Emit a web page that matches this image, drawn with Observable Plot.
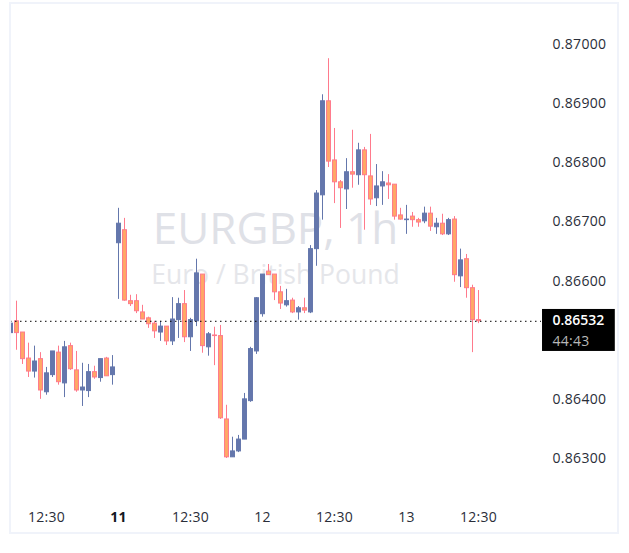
<!DOCTYPE html>
<html>
<head>
<meta charset="utf-8">
<script src="https://cdn.jsdelivr.net/npm/d3@7"></script>
<script src="https://cdn.jsdelivr.net/npm/@observablehq/plot@0.6"></script>
<style>
html,body{margin:0;padding:0;background:#fff;}
#wrap{position:relative;width:629px;height:553px;overflow:hidden;}
#wrap svg{display:block;}
#wrap svg g[aria-label^="y-axis"] text,#wrap svg g[aria-label^="x-axis"] text,#wrap svg g[aria-label="text"]:last-of-type text{letter-spacing:.3px;}
#border{position:absolute;left:9px;top:2px;width:606px;height:528px;border:2px solid #f0f3fa;pointer-events:none;}
</style>
</head>
<body>
<div id="wrap"><div id="border"></div></div>
<script>
const opens = [0.86512,0.86532,0.86513,0.86469,0.86447,0.86468,0.86412,0.86441,0.86479,0.86427,0.86490,0.86449,0.86415,0.86414,0.86446,0.86436,0.86469,0.86441,
0.86664,0.86686,0.86566,0.86566,0.86547,0.86537,0.86528,0.86513,0.86523,0.86498,0.86534,0.86561,0.86505,0.86532,0.86611,0.86488,0.86508,0.86507,0.86366,0.86302,0.86312,0.86332,0.86397,0.86481,0.86544,0.86616,0.86611,0.86581,0.86559,0.86567,0.86547,0.86554,0.86547,0.86654,0.86745,0.86904,0.86804,0.86767,0.86755,0.86784,0.86779,0.86821,0.86777,0.86740,0.86760,0.86765,0.86763,0.86711,0.86703,0.86709,0.86703,0.86701,0.86714,0.86691,0.86697,0.86679,0.86704,0.86608,0.86637,0.86588,0.86534];
const highs = [0.86540,0.86566,0.86513,0.86495,0.86490,0.86479,0.86454,0.86481,0.86490,0.86498,0.86495,0.86481,0.86461,0.86459,0.86456,0.86468,0.86471,0.86474,
0.86723,0.86706,0.86576,0.86577,0.86559,0.86539,0.86532,0.86532,0.86523,0.86572,0.86571,0.86584,0.86537,0.86637,0.86611,0.86513,0.86522,0.86525,0.86390,0.86336,0.86339,0.86410,0.86488,0.86572,0.86611,0.86628,0.86611,0.86591,0.86586,0.86571,0.86557,0.86571,0.86660,0.86753,0.86915,0.86976,0.86858,0.86770,0.86807,0.86855,0.86833,0.86826,0.86848,0.86797,0.86785,0.86780,0.86763,0.86723,0.86728,0.86716,0.86706,0.86725,0.86725,0.86706,0.86713,0.86706,0.86709,0.86654,0.86645,0.86593,0.86584];
const lows = [0.86510,0.86483,0.86459,0.86437,0.86436,0.86400,0.86407,0.86437,0.86424,0.86403,0.86449,0.86412,0.86388,0.86403,0.86434,0.86429,0.86439,0.86424,
0.86569,0.86566,0.86557,0.86545,0.86535,0.86520,0.86503,0.86498,0.86491,0.86491,0.86503,0.86496,0.86481,0.86523,0.86478,0.86473,0.86457,0.86366,0.86300,0.86302,0.86310,0.86332,0.86395,0.86476,0.86539,0.86610,0.86567,0.86552,0.86556,0.86545,0.86534,0.86545,0.86545,0.86625,0.86703,0.86792,0.86731,0.86689,0.86721,0.86757,0.86762,0.86686,0.86728,0.86726,0.86728,0.86738,0.86703,0.86703,0.86679,0.86691,0.86691,0.86697,0.86684,0.86679,0.86677,0.86677,0.86598,0.86589,0.86571,0.86479,0.86528];
const closes = [0.86528,0.86512,0.86468,0.86447,0.86464,0.86415,0.86444,0.86481,0.86429,0.86488,0.86451,0.86415,0.86420,0.86446,0.86437,0.86468,0.86439,0.86454,
0.86697,0.86567,0.86561,0.86549,0.86535,0.86527,0.86515,0.86523,0.86498,0.86535,0.86561,0.86505,0.86534,0.86613,0.86490,0.86510,0.86507,0.86368,0.86302,0.86312,0.86332,0.86400,0.86485,0.86571,0.86611,0.86610,0.86581,0.86562,0.86566,0.86547,0.86554,0.86550,0.86654,0.86748,0.86904,0.86802,0.86767,0.86757,0.86784,0.86780,0.86821,0.86779,0.86738,0.86760,0.86767,0.86762,0.86709,0.86704,0.86704,0.86703,0.86699,0.86714,0.86692,0.86697,0.86679,0.86703,0.86610,0.86635,0.86588,0.86534,0.86532];
const priceTicks = [0.87,0.869,0.868,0.867,0.866,0.864,0.863];
const timeTicks = [6,30,42,54,66,78];
const timeLabels = ["12:30","12:30","12","12:30","13","12:30"];
const boldTicks = [18];
const boldLabels = ["11"];
const lastPrice = 0.86532;
const countdown = "44:43";
const symbol = "EURGBP, 1h";
const description = "Euro / British Pound";

const upBody = "#6477ac", downFill = "#ffa866", downEdge = "#ff7a8c";
const candles = opens.map((o,i)=>({i,open:o,high:highs[i],low:lows[i],close:closes[i],up:closes[i]>o}));
const font = "'Open Sans', 'Noto Sans', sans-serif";

const chart = Plot.plot({
  width:629,height:553,
  marginLeft:10,marginRight:77,marginTop:4,marginBottom:46,
  style:{fontFamily:font,background:"#fff",color:"#2a2e39",overflow:"visible"},
  x:{type:"linear",domain:[0,78],range:[10,478],axis:null},
  y:{type:"linear",domain:[0.863,0.87],range:[458,44],axis:null},
  marks:[
    Plot.text([symbol],{text:d=>d,frameAnchor:"top",dx:-6,dy:208,fontSize:44,fill:"#dfe1e7",lineAnchor:"top"}),
    Plot.text([description],{text:d=>d,frameAnchor:"top",dx:-6,dy:261,fontSize:26.5,fill:"#e5e6ea",lineAnchor:"top"}),
    Plot.ruleX(candles,{x:"i",y1:"low",y2:"high",stroke:d=>d.up?upBody:downEdge,strokeWidth:1,clip:true}),
    Plot.rect(candles,{x1:d=>d.i-0.33,x2:d=>d.i+0.33,y1:"open",y2:"close",dx:0.5,fill:d=>d.up?upBody:downFill,stroke:d=>d.up?upBody:downEdge,strokeWidth:1,clip:true}),
    Plot.ruleY([lastPrice],{x1:0,x2:88.5,stroke:"#000",strokeWidth:1,strokeDasharray:"1.5 3.5"}),
    Plot.axisY({ticks:priceTicks,anchor:"right",label:null,tickSize:0,tickPadding:0,textAnchor:"start",tickFormat:d=>d.toFixed(5),fontSize:14,fill:"#2a2e39"}),
    Plot.axisX({ticks:timeTicks,anchor:"bottom",label:null,tickSize:0,tickPadding:5,tickFormat:d=>timeLabels[timeTicks.indexOf(d)],fontSize:14,fill:"#2a2e39"}),
    Plot.axisX({ticks:boldTicks,anchor:"bottom",label:null,tickSize:0,tickPadding:5,tickFormat:d=>boldLabels[boldTicks.indexOf(d)],fontSize:14,fontWeight:"bold",fill:"#131722"}),
    Plot.rect([lastPrice],{x1:88.67,x2:100.8,y1:0.86552,y2:0.86481,fill:"#000"}),
    Plot.text([lastPrice],{x:90.33,y:0.86534,text:d=>d.toFixed(5),fill:"#fff",fontSize:14,fontWeight:600,textAnchor:"start"}),
    Plot.text([countdown],{x:90.33,y:0.86498,text:d=>d,fill:"#b8b8b8",fontSize:14,textAnchor:"start"})
  ]
});
document.getElementById("wrap").prepend(chart);
</script>
</body>
</html>
